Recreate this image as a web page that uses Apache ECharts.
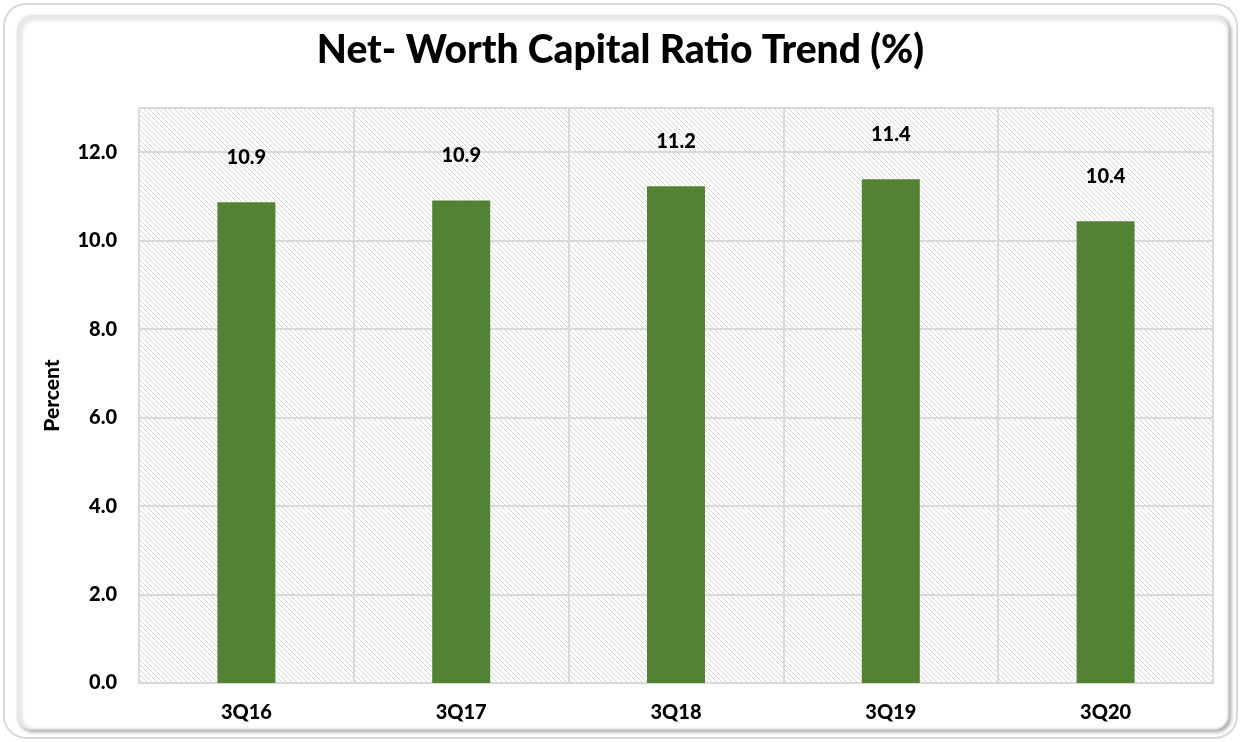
<!DOCTYPE html>
<html>
<head>
<meta charset="utf-8">
<script src="https://cdn.jsdelivr.net/npm/echarts@6/dist/echarts.min.js"></script>
<style>
  html, body { margin: 0; padding: 0; background: #fff; }
  #main { width: 1241px; height: 742px; }
</style>
</head>
<body>
<div id="main"></div>
<script>
// chart data
var quarters = ['3Q16', '3Q17', '3Q18', '3Q19', '3Q20'];
var ratioValues = [10.87, 10.91, 11.23, 11.39, 10.44];
var labelTexts = ['10.9', '10.9', '11.2', '11.4', '10.4'];

// diagonal hatch for the plot background
function makeHatch() {
    var c = document.createElement('canvas');
    c.width = 5;
    c.height = 5;
    var ctx = c.getContext('2d');
    ctx.fillStyle = '#ffffff';
    ctx.fillRect(0, 0, 5, 5);
    ctx.strokeStyle = '#d6d6d6';
    ctx.lineWidth = 1;
    ctx.beginPath();
    ctx.moveTo(-1, -1); ctx.lineTo(6, 6);
    ctx.moveTo(-1, 4); ctx.lineTo(1, 6);
    ctx.moveTo(4, -1); ctx.lineTo(6, 1);
    ctx.stroke();
    return c;
}

var chartDom = document.getElementById('main');
var myChart = echarts.init(chartDom);
var fontFam = 'Lato';
var heavy = 900;
var option;

option = {
    backgroundColor: '#ffffff',
    animation: false,
    title: {
        text: 'Net- Worth Capital Ratio Trend (%)',
        left: 'center',
        top: 26,
        textStyle: { fontFamily: fontFam, fontSize: 39, fontWeight: heavy, color: '#000' }
    },
    graphic: [
        {
            type: 'rect',
            shape: { x: 4, y: 4, width: 1233, height: 734, r: 22 },
            style: { fill: 'none', stroke: '#d9d9d9', lineWidth: 2 },
            z: -10
        },
        {
            type: 'rect',
            shape: { x: 18, y: 16, width: 1210, height: 713, r: 14 },
            style: { fill: '#fff', stroke: '#e6e6e6', lineWidth: 1.5,
                     shadowBlur: 4, shadowOffsetX: 2, shadowOffsetY: 2, shadowColor: 'rgba(0,0,0,0.35)' },
            z: -9
        }
    ],
    grid: {
        left: 139,
        right: 28,
        top: 108,
        bottom: 59,
        show: true,
        borderWidth: 0,
        backgroundColor: { image: makeHatch(), repeat: 'repeat' }
    },
    xAxis: {
        type: 'category',
        data: quarters,
        axisLine: { show: true, lineStyle: { color: '#d9d9d9', width: 2 } },
        axisTick: { show: false },
        splitLine: { show: true, lineStyle: { color: '#d9d9d9', width: 2 } },
        axisLabel: { fontFamily: fontFam, fontSize: 20, fontWeight: heavy, color: '#000', margin: 20 }
    },
    yAxis: {
        type: 'value',
        min: 0,
        max: 13,
        interval: 2,
        name: 'Percent',
        nameLocation: 'middle',
        nameGap: 76,
        nameTextStyle: { fontFamily: fontFam, fontSize: 21, fontWeight: heavy, color: '#000' },
        axisLine: { show: true, lineStyle: { color: '#d9d9d9', width: 2 } },
        axisTick: { show: false },
        splitLine: { show: true, lineStyle: { color: '#d9d9d9', width: 2 } },
        axisLabel: {
            fontFamily: fontFam, fontSize: 20, fontWeight: heavy, color: '#000', margin: 22,
            showMaxLabel: false,
            formatter: function (v) { return v > 12 ? '' : v.toFixed(1); }
        }
    },
    series: [
        {
            type: 'bar',
            data: ratioValues,
            barWidth: 58,
            itemStyle: { color: '#548235' },
            label: {
                show: true,
                position: 'top',
                distance: 35,
                fontFamily: fontFam,
                fontSize: 20,
                fontWeight: heavy,
                color: '#000',
                formatter: function (p) { return labelTexts[p.dataIndex]; }
            }
        }
    ]
};

option && myChart.setOption(option);
</script>
</body>
</html>
